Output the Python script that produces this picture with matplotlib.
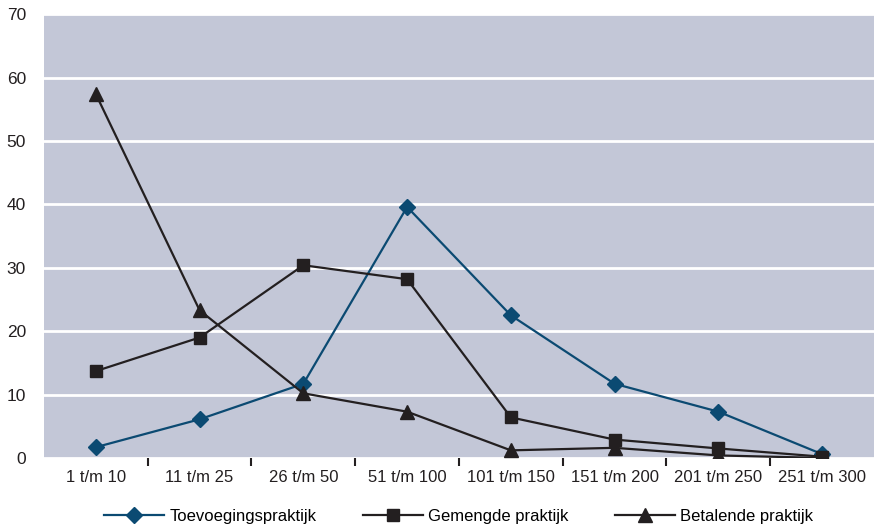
import matplotlib
matplotlib.use("Agg")
import matplotlib.pyplot as plt
from matplotlib.ticker import FixedLocator

categories = ["1 t/m 10", "11 t/m 25", "26 t/m 50", "51 t/m 100",
              "101 t/m 150", "151 t/m 200", "201 t/m 250", "251 t/m 300"]
toevoeging = [1.7, 6.1, 11.7, 39.6, 22.5, 11.7, 7.3, 0.6]
gemengd = [13.7, 19.0, 30.4, 28.2, 6.4, 2.9, 1.5, 0.2]
betalend = [57.4, 23.3, 10.2, 7.3, 1.2, 1.6, 0.4, 0.0]
yticks = [0, 10, 20, 30, 40, 50, 60, 70]

BLUE = "#0b4a72"
DARK = "#231f20"
BG = "#c3c7d7"

plt.rcParams["font.family"] = ["Liberation Sans Narrow", "Liberation Sans", "DejaVu Sans"]

fig = plt.figure(figsize=(8.74, 5.27), dpi=100)
ax = fig.add_axes([0.0503, 0.131, 0.9497, 0.842])
ax.set_facecolor(BG)

x = list(range(len(categories)))
ax.plot(x, toevoeging, color=BLUE, lw=1.6, marker="D", ms=8, label="Toevoegingspraktijk", zorder=3)
ax.plot(x, gemengd, color=DARK, lw=1.6, marker="s", ms=9, label="Gemengde praktijk", zorder=3)
ax.plot(x, betalend, color=DARK, lw=1.6, marker="^", ms=10, label="Betalende praktijk", zorder=3)

ax.set_xlim(-0.5, len(categories) - 0.5)
ax.set_ylim(0, 70)
ax.set_yticks(yticks)
ax.yaxis.grid(True, color="white", lw=2)
ax.set_axisbelow(True)
ax.tick_params(axis="y", length=0, labelsize=12.5, pad=13, colors=DARK)

ax.set_xticks(x)
ax.set_xticklabels(categories)
ax.tick_params(axis="x", which="major", length=0, labelsize=12, pad=9, colors=DARK)
ax.xaxis.set_minor_locator(FixedLocator([i + 0.5 for i in range(len(categories) - 1)]))
ax.tick_params(axis="x", which="minor", length=6, width=1.5, color=DARK, direction="out")

for s in ax.spines.values():
    s.set_visible(False)

fig.legend(loc="lower center", bbox_to_anchor=(0.525, -0.022), ncol=3, frameon=False,
           fontsize=12, handlelength=3.6, columnspacing=2.8, handletextpad=0.3)

fig.savefig("out.png", dpi=100)
